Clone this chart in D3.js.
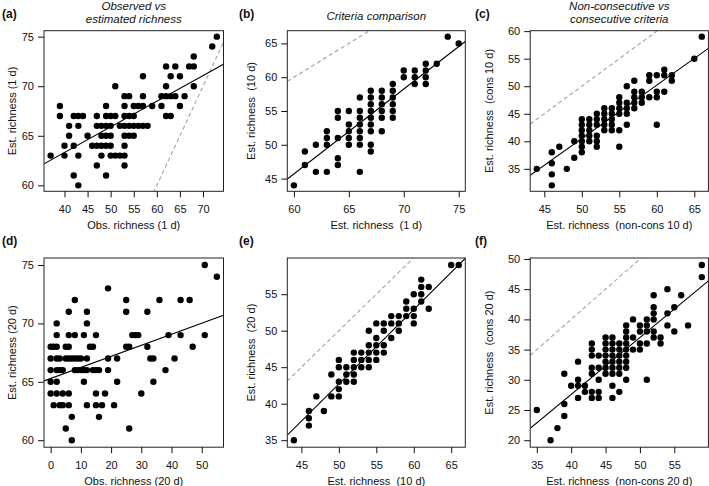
<!DOCTYPE html>
<html><head><meta charset="utf-8">
<script src="https://cdn.jsdelivr.net/npm/d3@7"></script>
<style>body{margin:0;background:#fff}svg{display:block}text{font-family:"Liberation Sans",Arial,Helvetica,sans-serif}</style>
</head><body><svg id="c" width="709" height="486"></svg>
<script>
// ---- data ----
const pointsA = [[73,75],[72,74],[68,73],[62,72],[64,72],[67,72],[68,72],[57,71],[63,71],[65,71],[51,70],[62,70],[68,70],
[53,69],[54,69],[57,69],[61,69],[62,69],[63,69],[64,69],[66,69],
[39,68],[49,68],[53,68],[55,68],[56,68],[57,68],[59,68],[61,68],[65,68],
[39,67],[42,67],[43,67],[44,67],[47,67],[49,67],[50,67],[51,67],[53,67],[54,67],[55,67],[62,67],[63,67],
[41,66],[43,66],[47,66],[48,66],[49,66],[50,66],[52,66],[53,66],[54,66],[55,66],[56,66],[57,66],[58,66],
[41,65],[45,65],[48,65],[49,65],[50,65],[53,65],[54,65],[55,65],
[40,64],[42,64],[46,64],[47,64],[48,64],[49,64],[50,64],[53,64],
[37,63],[40,63],[43,63],[48,63],[50,63],[51,63],[52,63],[53,63],
[47,62],[53,62],[42,61],[49,61],[43,60]];
const pointsB = [[74,66],[75,65],[72,62],[73,62],[70,61],[71,61],[72,61],[70,60],[71,60],[72,60],[69,59],[71,59],[72,59],
[67,58],[68,58],[69,58],[66,57],[67,57],[68,57],[69,57],[67,56],[68,56],[69,56],
[64,55],[65,55],[66,55],[67,55],[68,55],[69,55],[64,54],[66,54],[67,54],[68,54],[69,54],
[65,53],[66,53],[67,53],[63,52],[65,52],[66,52],[67,52],[68,52],[63,51],[64,51],[65,51],[66,51],
[62,50],[63,50],[65,50],[66,50],[67,50],[61,49],[67,49],[64,48],[61,47],[64,47],[62,46],[63,46],[66,46],[60,44]];
const pointsC = [[66,59],[65,55],[61,53],[59,52],[60,52],[61,52],[62,52],[57,51],[59,51],[62,51],[56,50],
[57,49],[58,49],[60,49],[61,49],[55,48],[57,48],[58,48],[59,48],[60,48],[55,47],[56,47],[57,47],[58,47],
[53,46],[54,46],[55,46],[56,46],[57,46],[52,45],[53,45],[54,45],[55,45],[56,45],
[50,44],[51,44],[52,44],[53,44],[54,44],[50,43],[51,43],[52,43],[53,43],[54,43],[56,43],[60,43],
[50,42],[51,42],[53,42],[54,42],[55,42],[50,41],[51,41],[52,41],[49,40],[50,40],[51,40],[52,40],
[50,39],[52,39],[55,39],[47,39],[46,38],[50,38],[49,37],[46,36],[44,35],[48,35],[46,34],[46,32]];
const pointsD = [[51,75],[55,74],[19,73],[8,72],[25,72],[36,72],[43,72],[46,72],[6,71],[12,71],[25,71],[32,71],[2,70],[12,70],
[2,69],[6,69],[8,69],[11,69],[15,69],[27,69],[28,69],[29,69],[39,69],[43,69],[51,69],
[0,68],[1,68],[2,68],[5,68],[6,68],[13,68],[14,68],[25,68],[26,68],[32,68],[47,68],
[0,67],[2,67],[3,67],[5,67],[6,67],[7,67],[8,67],[9,67],[10,67],[12,67],[19,67],[22,67],[33,67],[34,67],[41,67],
[0,66],[2,66],[3,66],[4,66],[8,66],[9,66],[10,66],[11,66],[12,66],[14,66],[15,66],[16,66],[19,66],[38,66],
[0,65],[2,65],[11,65],[22,65],[34,65],[0,64],[2,64],[4,64],[6,64],[15,64],[18,64],[30,64],
[1,63],[3,63],[4,63],[6,63],[12,63],[15,63],[17,63],[21,63],[7,62],[16,62],[5,61],[26,61],[7,60]];
const pointsE = [[65,59],[66,59],[61,57],[61,56],[62,56],[60,55],[61,55],[59,54],[61,54],[59,53],[60,53],[62,53],
[57,52],[58,52],[59,52],[60,52],[55,51],[56,51],[57,51],[58,51],[60,51],[54,50],[56,50],[58,50],[55,49],[57,49],
[54,48],[55,48],[56,48],[52,47],[53,47],[54,47],[55,47],[56,47],[50,46],[52,46],[53,46],[54,46],[55,46],
[50,45],[51,45],[52,45],[53,45],[54,45],[49,44],[51,44],[52,44],[50,43],[51,43],[52,43],[50,42],
[47,41],[49,41],[50,41],[46,39],[48,39],[46,38],[46,37],[44,35]];
const pointsF = [[59,49],[59,47],[54,45],[52,44],[56,44],[52,42],[55,42],[52,41],[54,41],[52,40],[49,40],[51,40],
[50,39],[51,39],[54,39],[57,39],[48,39],[48,38],[50,38],[51,38],[52,38],[55,38],[48,37],[49,37],[52,37],[53,37],
[45,37],[46,37],[48,36],[50,36],[51,36],[53,36],[43,36],[45,36],[46,36],[47,36],[49,35],[50,35],[43,35],[45,35],
[46,35],[47,35],[48,35],[43,34],[44,34],[45,34],[46,34],[47,34],[48,34],[41,33],[45,33],[46,33],[47,33],[48,33],
[43,32],[44,32],[45,32],[46,32],[47,32],[48,32],[39,31],[43,31],[45,31],[46,31],[47,31],[41,30],[44,30],[48,30],[51,30],
[40,29],[41,29],[42,29],[46,29],[42,28],[43,28],[44,28],[47,28],[41,27],[43,27],[44,27],[46,27],[39,26],[35,25],[39,24],[38,22],[37,20]];
// fitted lines [intercept, slope]
const fitA = [53.0, 0.258];
const fitB = [-29.6, 1.255];
const fitC = [-8.0, 0.97];
const fitD = [65.28, 0.0946];
const fitE = [-8.3, 1.02];
const fitF = [-10.1, 0.942];
// tick values
const xTicksA = [40,45,50,55,60,65,70], yTicksA = [60,65,70,75];
const xTicksB = [60,65,70,75], yTicksB = [45,50,55,60,65];
const xTicksC = [45,50,55,60,65], yTicksC = [35,40,45,50,55,60];
const xTicksD = [0,10,20,30,40,50], yTicksD = [60,65,70,75];
const xTicksE = [45,50,55,60,65], yTicksE = [35,40,45,50,55];
const xTicksF = [35,40,45,50,55], yTicksF = [20,25,30,35,40,45,50];
const letters = ["(a)","(b)","(c)","(d)","(e)","(f)"];
const titles = [["Observed vs","estimated richness"],["Criteria comparison"],["Non-consecutive vs","consecutive criteria"],[],[],[]];
const xLabels = ["Obs. richness (1 d)","Est. richness  (1 d)","Est. richness  (non-cons 10 d)","Obs. richness (20 d)","Est. richness  (10 d)","Est. richness  (non-cons 20 d)"];
const yLabels = ["Est. richness (1 d)","Est. richness  (10 d)","Est. richness  (cons 10 d)","Est. richness (20 d)","Est. richness  (20 d)","Est. richness  (cons 20 d)"];

// ---- layout ----
const colX = [[44,223.5],[287.3,465.3],[530.2,708.4]];
const rowY = [[30.7,191.3],[258,447.2]];
const yTitleX = [12,251,489];
const font = '"Liberation Sans",Arial,Helvetica,sans-serif';

const panels = [
 {pts:pointsA, fit:fitA, xt:xTicksA, yt:yTicksA},
 {pts:pointsB, fit:fitB, xt:xTicksB, yt:yTicksB},
 {pts:pointsC, fit:fitC, xt:xTicksC, yt:yTicksC},
 {pts:pointsD, fit:fitD, xt:xTicksD, yt:yTicksD},
 {pts:pointsE, fit:fitE, xt:xTicksE, yt:yTicksE},
 {pts:pointsF, fit:fitF, xt:xTicksF, yt:yTicksF}
];
const svg = d3.select("#c");
function rExpand(e){const d=(e[1]-e[0])*0.04;return [e[0]-d,e[1]+d];}

panels.forEach((p,i)=>{
  const col=i%3,row=Math.floor(i/3);
  const [x0,x1]=colX[col],[y0,y1]=rowY[row];
  const xd=rExpand(d3.extent(p.pts,d=>d[0])), yd=rExpand(d3.extent(p.pts,d=>d[1]));
  const x=d3.scaleLinear().domain(xd).range([x0,x1]);
  const y=d3.scaleLinear().domain(yd).range([y1,y0]);
  const g=svg.append("g");
  const cid="clip"+i;
  g.append("clipPath").attr("id",cid).append("rect").attr("x",x0).attr("y",y0).attr("width",x1-x0).attr("height",y1-y0);
  const inner=g.append("g").attr("clip-path",`url(#${cid})`);
  inner.append("line").attr("x1",x(xd[0])).attr("y1",y(xd[0])).attr("x2",x(xd[1])).attr("y2",y(xd[1]))
    .attr("stroke","#a0a0a0").attr("stroke-width",1.1).attr("stroke-dasharray","4,3");
  const f=p.fit;
  inner.append("line").attr("x1",x(xd[0])).attr("y1",y(f[0]+f[1]*xd[0])).attr("x2",x(xd[1])).attr("y2",y(f[0]+f[1]*xd[1]))
    .attr("stroke","#000").attr("stroke-width",1.1);
  g.selectAll("circle.pt").data(p.pts).enter().append("circle").attr("class","pt")
    .attr("cx",d=>x(d[0])).attr("cy",d=>y(d[1])).attr("r",3.2).attr("fill","#000");
  g.append("rect").attr("x",x0).attr("y",y0).attr("width",x1-x0).attr("height",y1-y0)
    .attr("fill","none").attr("stroke","#222").attr("stroke-width",1);
  const ax=g.append("g").attr("transform",`translate(0,${y1})`)
    .call(d3.axisBottom(x).tickValues(p.xt).tickSizeOuter(0).tickSize(6).tickPadding(8));
  ax.select(".domain").remove();
  const ay=g.append("g").attr("transform",`translate(${x0},0)`)
    .call(d3.axisLeft(y).tickValues(p.yt).tickSizeOuter(0).tickSize(6).tickPadding(4));
  ay.select(".domain").remove();
  [ax,ay].forEach(a=>{a.attr("font-family",font).attr("font-size",11);a.selectAll("text").attr("fill","#111");a.selectAll("line").attr("stroke","#111");});
  g.append("text").attr("x",(x0+x1)/2).attr("y",y1+38).attr("text-anchor","middle").attr("font-size",11)
    .style("white-space","pre").attr("fill","#111").text(xLabels[i]);
  g.append("text").attr("transform",`translate(${yTitleX[col]},${(y0+y1)/2}) rotate(-90)`).attr("dy","0.35em")
    .attr("text-anchor","middle").attr("font-size",11).style("white-space","pre").attr("fill","#111").text(yLabels[i]);
  const lx=[2,239,475][col], ly=row===0?17.5:245;
  g.append("text").attr("x",lx).attr("y",ly).attr("font-size",12).attr("font-weight","bold").attr("fill","#111").text(letters[i]);
  const t=titles[i];
  t.forEach((s,k)=>{
    const by = t.length===2 ? [10,22.5][k] : 19.5;
    g.append("text").attr("x",(x0+x1)/2).attr("y",by).attr("text-anchor","middle").attr("font-size",11.5)
      .attr("font-style","italic").attr("fill","#111").text(s);
  });
});
</script></body></html>
